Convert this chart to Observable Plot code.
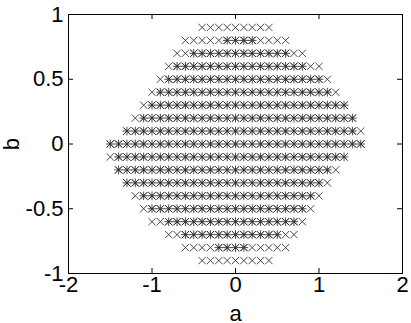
<!DOCTYPE html>
<html><head><meta charset="utf-8">
<script src="https://cdn.jsdelivr.net/npm/d3@7"></script>
<script src="https://cdn.jsdelivr.net/npm/@observablehq/plot@0.6"></script>
<style>body{margin:0;background:#fff}</style>
</head><body><div id="chart"></div>
<script>
// Grid rows (b) and the a-range of the "x" and "*" markers in each row (step 0.1)
const bRows    = [0.9, 0.8, 0.7, 0.6, 0.5, 0.4, 0.3, 0.2, 0.1, 0.0, -0.1, -0.2, -0.3, -0.4, -0.5, -0.6, -0.7, -0.8, -0.9];
const crossLo  = [-0.4,-0.6,-0.7,-0.8,-0.9,-1.0,-1.1,-1.2,-1.3,-1.5,-1.5,-1.4,-1.3,-1.2,-1.1,-1.0,-0.8,-0.6,-0.4];
const crossHi  = [ 0.4, 0.6, 0.8, 1.0, 1.1, 1.2, 1.3, 1.4, 1.5, 1.5, 1.3, 1.2, 1.1, 1.0, 0.9, 0.8, 0.7, 0.6, 0.4];
const starLo   = [null,-0.1,-0.5,-0.7,-0.8,-0.9,-1.0,-1.1,-1.3,-1.5,-1.4,-1.4,-1.3,-1.1,-1.0,-0.8,-0.6,-0.2,null];
const starHi   = [null, 0.2, 0.6, 0.8, 1.0, 1.1, 1.3, 1.4, 1.4, 1.5, 1.3, 1.1, 1.0, 0.9, 0.8, 0.7, 0.5, 0.1,null];
const xTicks = [-2, -1, 0, 1, 2];
const yTicks = [-1, -0.5, 0, 0.5, 1];

function expand(lo, hi) {
  const pts = [];
  bRows.forEach((b, i) => {
    if (lo[i] == null) return;
    const k0 = Math.round(lo[i] * 10), k1 = Math.round(hi[i] * 10);
    for (let k = k0; k <= k1; k++) pts.push({a: k / 10, b});
  });
  return pts;
}
const crossPts = expand(crossLo, crossHi);
const starPts = expand(starLo, starHi);

const W = 411, H = 323, mL = 68, mR = 9, mT = 14, mB = 50;
const innerW = W - mL - mR, innerH = H - mT - mB;
const ink = "#2a2a2a";
const chart = Plot.plot({
  width: W, height: H,
  marginLeft: mL, marginRight: mR, marginTop: mT, marginBottom: mB,
  x: {domain: [-2, 2]},
  y: {domain: [-1, 1]},
  style: {fontFamily: "'Liberation Sans', Arial, sans-serif", fontSize: "22px", color: "#000", background: "#fff", overflow: "visible"},
  marks: [
    Plot.frame({stroke: "#000", strokeWidth: 1}),
    Plot.ruleX(xTicks, {x: d => d, insetTop: innerH - 5, stroke: "#000"}),
    Plot.ruleX(xTicks, {x: d => d, insetBottom: innerH - 5, stroke: "#000"}),
    Plot.ruleY(yTicks, {y: d => d, insetLeft: innerW - 5, stroke: "#000"}),
    Plot.ruleY(yTicks, {y: d => d, insetRight: innerW - 5, stroke: "#000"}),
    Plot.axisX({ticks: xTicks, tickSize: 0, tickPadding: 3, tickFormat: d => String(d),
      label: "a", labelAnchor: "center", labelArrow: "none", labelOffset: 47, fontSize: 22}),
    Plot.axisY({ticks: yTicks, tickSize: 0, tickPadding: 5, tickFormat: d => String(d),
      label: "b", labelAnchor: "center", labelArrow: "none", labelOffset: 65, fontSize: 22}),
    Plot.dot(crossPts, {x: "a", y: "b", symbol: "times", r: 3.4, stroke: ink, strokeWidth: 0.85}),
    Plot.dot(starPts, {x: "a", y: "b", symbol: "times", r: 3.4, stroke: ink, strokeWidth: 0.85}),
    Plot.dot(starPts, {x: "a", y: "b", symbol: "plus", r: 2.9, stroke: ink, strokeWidth: 0.85})
  ]
});
document.getElementById("chart").appendChild(chart);
</script>
</body></html>
